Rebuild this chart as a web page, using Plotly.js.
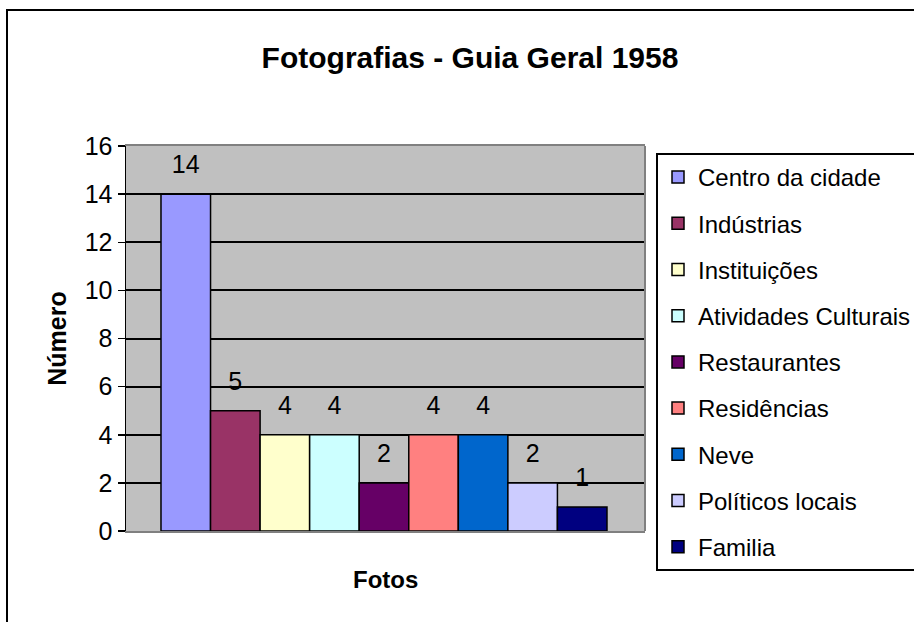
<!DOCTYPE html>
<html>
<head>
<meta charset="utf-8">
<script src="https://cdn.plot.ly/plotly-3.0.1.min.js"></script>
<style>html,body{margin:0;padding:0;background:#fff;}#chart{width:914px;height:622px;}</style>
</head>
<body>
<div id="chart"></div>
<script>
const categories = ["Centro da cidade", "Indústrias", "Instituições", "Atividades Culturais", "Restaurantes", "Residências", "Neve", "Políticos locais", "Familia"];
const values = [14, 5, 4, 4, 2, 4, 4, 2, 1];
const colors = ["#9999FF", "#993366", "#FFFFCC", "#CCFFFF", "#660066", "#FF8080", "#0066CC", "#CCCCFF", "#000080"];
const yTicks = [0, 2, 4, 6, 8, 10, 12, 14, 16];

const FONT = "Liberation Sans, Arial, Helvetica, sans-serif";

const traces = categories.map((name, i) => ({
  type: "bar",
  name: name,
  x: [i],
  y: [values[i]],
  width: 1,
  marker: {color: colors[i], line: {color: "#000000", width: 1.5}},
  legendgroup: "g" + i,
  hoverinfo: "name+y"
}));

traces.push({
  type: "scatter",
  mode: "markers+text",
  x: categories.map((c, i) => i),
  y: values,
  text: values.map(String),
  textposition: "top center",
  textfont: {family: FONT, size: 25, color: "#000"},
  marker: {size: 22, color: "rgba(0,0,0,0)"},
  showlegend: false,
  hoverinfo: "skip",
  cliponaxis: false
});

const L = 126, R = 269, T = 146, B = 91;
const W = 914 - L - R, H = 622 - T - B;
const px = v => (v - L) / W;
const py = v => 1 - (v - T) / H;

const layout = {
  width: 914,
  height: 622,
  margin: {l: L, r: R, t: T, b: B, autoexpand: false},
  paper_bgcolor: "#ffffff",
  plot_bgcolor: "#C0C0C0",
  font: {family: FONT, color: "#000"},
  title: {
    text: "<b>Fotografias - Guia Geral 1958</b>",
    font: {family: FONT, size: 30, color: "#000"},
    x: 470 / 914, xanchor: "center", xref: "container",
    y: 1 - 57 / 622, yanchor: "middle", yref: "container"
  },
  showlegend: true,
  legend: {
    x: px(656), y: py(153), xanchor: "left", yanchor: "top",
    bordercolor: "#000", borderwidth: 2, bgcolor: "#fff",
    font: {family: FONT, size: 24, color: "#000"},
    tracegroupgap: 12,
    traceorder: "grouped",
    maxheight: 460
  },
  xaxis: {
    range: [-1.206, 9.267],
    showticklabels: false, ticks: "", showgrid: false, zeroline: false,
    showline: true, linecolor: "#808080", linewidth: 2, mirror: true,
    fixedrange: true,
    title: {text: ""}
  },
  yaxis: {
    range: [0, 16], tickvals: yTicks, ticktext: yTicks.map(String),
    ticks: "outside", ticklen: 7, tickwidth: 1.5, tickcolor: "#000",
    tickfont: {family: FONT, size: 25, color: "#000"},
    showgrid: true, gridcolor: "#000", gridwidth: 2,
    zeroline: false, showline: true, linecolor: "#000", linewidth: 1.5,
    fixedrange: true,
    title: {text: "<b>Número</b>", font: {family: FONT, size: 25, color: "#000"}}
  },
  annotations: [
    {text: "<b>Fotos</b>", xref: "paper", yref: "paper", x: 0.5, y: py(579), xanchor: "center", yanchor: "middle",
     showarrow: false, font: {family: FONT, size: 24, color: "#000"}}
  ],
  shapes: [
    {type: "line", xref: "paper", yref: "paper", x0: 1, x1: 1, y0: 0, y1: 1, line: {color: "#808080", width: 2}},
    {type: "rect", xref: "paper", yref: "paper", x0: px(7), x1: px(1000), y0: py(10), y1: py(700), line: {color: "#000", width: 2}, fillcolor: "rgba(0,0,0,0)"}
  ],
  bargap: 0
};

Plotly.newPlot("chart", traces, layout, {displayModeBar: false, staticPlot: true});
</script>
</body>
</html>
